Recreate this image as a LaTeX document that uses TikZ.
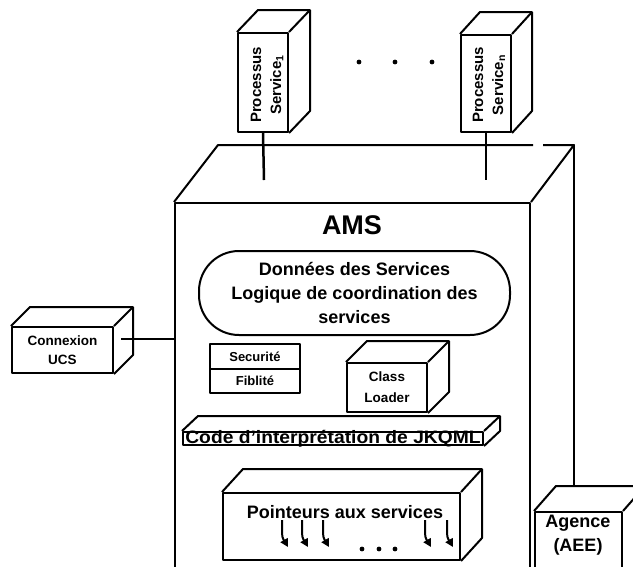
\documentclass[tikz,border=0pt]{standalone}
\usepackage{fontspec}
\setmainfont{Liberation Sans}
\usetikzlibrary{arrows.meta,calc}
\newcommand\fsz[2]{\fontsize{#1}{#2}\selectfont\bfseries}
\newcommand\cubedepth[3]{%
  \draw[edge] (#1.north west) -- ++(#2,#3) -- ($(#1.north east)+(#2,#3)$) -- ($(#1.south east)+(#2,#3)$) -- (#1.south east);
  \draw[edge] (#1.north east) -- ++(#2,#3);}
\tikzset{
  edge/.style={line width=2pt, line join=round},
  face/.style={draw, line width=2pt, fill=white, inner sep=0pt, align=center, line join=round},
  lbl/.style={inner sep=0pt, align=center},
  hookarrow/.style={line width=2pt, -{Triangle[length=8pt,width=8pt]}},
}
\begin{document}
\begin{tikzpicture}[x=1pt,y=-1pt]
\clip (0,0) rectangle (633,566);
\useasboundingbox (0,0) rectangle (633,566);
\fill[white] (0,0) rectangle (633,566);

% AMS main box
\node[face, fill=none, minimum width=355pt, minimum height=377pt] (ams) at (352.5,391.5) {};
\coordinate (amsbl) at (218,145);
\coordinate (amsbr) at (574,145);
\draw[edge] (ams.north west) -- (amsbl) -- (533,145);
\draw[edge] (543,145) -- (amsbr) -- (ams.north east);
\node[lbl, font=\fsz{27}{30}] (amstitle) at (352,225) {AMS};

% Processus boxes
\node[face, minimum width=50pt, minimum height=99pt] (p1) at (263,82.5) {};
\cubedepth{p1}{21}{-22}
\node[lbl, rotate=90, font=\fsz{15}{20}] (p1t) at (267,85) {Processus\\Service\textsubscript{1}};
\node[face, minimum width=50pt, minimum height=97pt] (pn) at (486,83.5) {};
\cubedepth{pn}{20}{-22}
\node[lbl, rotate=90, font=\fsz{15}{20}] (pnt) at (489,85) {Processus\\Service\textsubscript{n}};
\coordinate (p1end) at (264,180);
\coordinate (pnend) at (486,180);
\draw[edge, line width=2.5pt] (p1.south) -- (p1end);
\draw[edge, line width=2.5pt] (pn.south) -- (pnend);
\fill (359,62) circle (2.4pt) (395,62) circle (2.4pt) (432,62) circle (2.4pt);

% Connexion UCS
\node[face, minimum width=101pt, minimum height=46pt, font=\fsz{13.5}{19}] (ucs) at (62.5,350) {Connexion\\UCS};
\cubedepth{ucs}{19}{-19}
\coordinate (ucsl) at (121,339);
\draw[edge, line width=2.5pt] (ucsl) -- (ams.west |- ucsl);

% Pill
\node[face, rounded corners=40pt, minimum width=311pt, minimum height=84pt, font=\fsz{18}{24}] (pill) at (354.5,293) {Données des Services\\Logique de coordination des\\services};

% Securite / Fiblite
\node[face, minimum width=90pt, minimum height=25pt, font=\fsz{13}{15}] (sec) at (255,356.5) {Securité};
\node[face, minimum width=90pt, minimum height=24pt, font=\fsz{13}{15}] (fia) at (255,381) {Fiblité};

% Class Loader
\node[face, minimum width=80pt, minimum height=49pt, font=\fsz{13.5}{21}] (cl) at (387,387.5) {Class\\Loader};
\cubedepth{cl}{21}{-21}

% Code bar
\node[face, minimum width=300pt, minimum height=13pt] (code) at (333,438.5) {};
\cubedepth{code}{16}{-15}
\node[lbl, anchor=base, font=\fsz{18}{20}] (codet) at (333,443.5) {\scalebox{1.07}[1]{Code d'interprétation de JKQML}};

% Pointeurs
\node[face, minimum width=237pt, minimum height=67pt] (ptr) at (341.5,526.5) {};
\cubedepth{ptr}{21}{-23}
\node[lbl, font=\fsz{18}{20}] (ptrt) at (345,512) {Pointeurs aux services};
\foreach \xx in {282,302,323,425,447}{
  \draw[hookarrow] (\xx,520) -- ++(0,13) to[out=-90,in=120] ++(6,14);
}
\fill (362,549) circle (2.4pt) (379,549) circle (2.4pt) (395,549) circle (2.4pt);

% Agence
\node[face, minimum width=87pt, minimum height=68pt] (ag) at (578.5,546) {};
\cubedepth{ag}{22}{-25}
\node[lbl, font=\fsz{18}{24}] (agt) at (578,535) {Agence\\(AEE)};
\coordinate (agtop) at ($(ag.north west)+(22,-25)$);
\draw[edge] (amsbr) -- (amsbr |- agtop);
\end{tikzpicture}
\end{document}
